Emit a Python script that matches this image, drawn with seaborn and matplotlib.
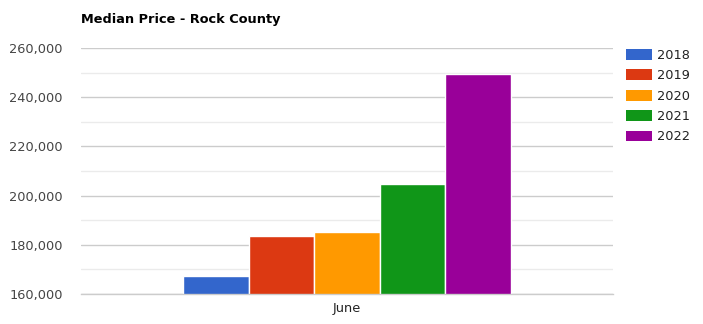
import matplotlib
matplotlib.use("Agg")
import matplotlib.pyplot as plt
import matplotlib.patches as mpatches
from matplotlib.ticker import FuncFormatter, MultipleLocator
import seaborn as sns
import pandas as pd

months = ["June"]
years = ["2018", "2019", "2020", "2021", "2022"]
prices = [167400, 183700, 185300, 204800, 249500]
colors = ["#3366cc", "#dc3912", "#ff9900", "#109618", "#990099"]

df = pd.DataFrame({"month": months * len(years), "year": years, "price": prices})

sns.set_theme(style="white")
plt.rcParams["font.family"] = ["DejaVu Sans"]

fig = plt.figure(figsize=(7.03, 3.24), dpi=100)
ax = fig.add_axes([81/703, 1-294/324, (613-81)/703, (294-48)/324])

sns.barplot(data=df, x="month", y="price", hue="year", palette=colors,
            width=328/532, gap=0, edgecolor="white", linewidth=1,
            ax=ax, legend=False, saturation=1)

ax.set_xlim(-0.5, 0.5)
ax.set_ylim(160000, 260000)
ax.yaxis.set_major_locator(MultipleLocator(20000))
ax.yaxis.set_minor_locator(MultipleLocator(10000))
ax.yaxis.set_major_formatter(FuncFormatter(lambda v, p: f"{int(v):,}"))
ax.grid(axis="y", which="major", color="#cccccc", linewidth=1)
ax.grid(axis="y", which="minor", color="#ebebeb", linewidth=1)
ax.set_axisbelow(True)
for s in ax.spines.values():
    s.set_visible(False)
ax.spines["bottom"].set_visible(True)
ax.spines["bottom"].set_color("#cccccc")
ax.spines["bottom"].set_linewidth(1)
ax.tick_params(axis="y", which="both", length=0, labelsize=9.3, labelcolor="#444444", pad=13)
ax.tick_params(axis="x", length=0, labelsize=9.3, labelcolor="#222222", pad=6)
ax.set_xlabel("")
ax.set_ylabel("")

fig.text(81/703, 1-20/324, "Median Price - Rock County", fontsize=9.3, fontweight="bold",
         color="#000000", va="center", ha="left")

handles = [mpatches.Patch(facecolor=c, edgecolor="none", label=y) for c, y in zip(colors, years)]
leg = fig.legend(handles=handles, loc="upper left", bbox_to_anchor=(626/703, 1-49/324),
                 frameon=False, fontsize=9.3, handlelength=2.0, handleheight=0.93,
                 handletextpad=0.4, labelspacing=0.57, borderaxespad=0, borderpad=0)
for t in leg.get_texts():
    t.set_color("#222222")

fig.savefig("out.png", dpi=100)
